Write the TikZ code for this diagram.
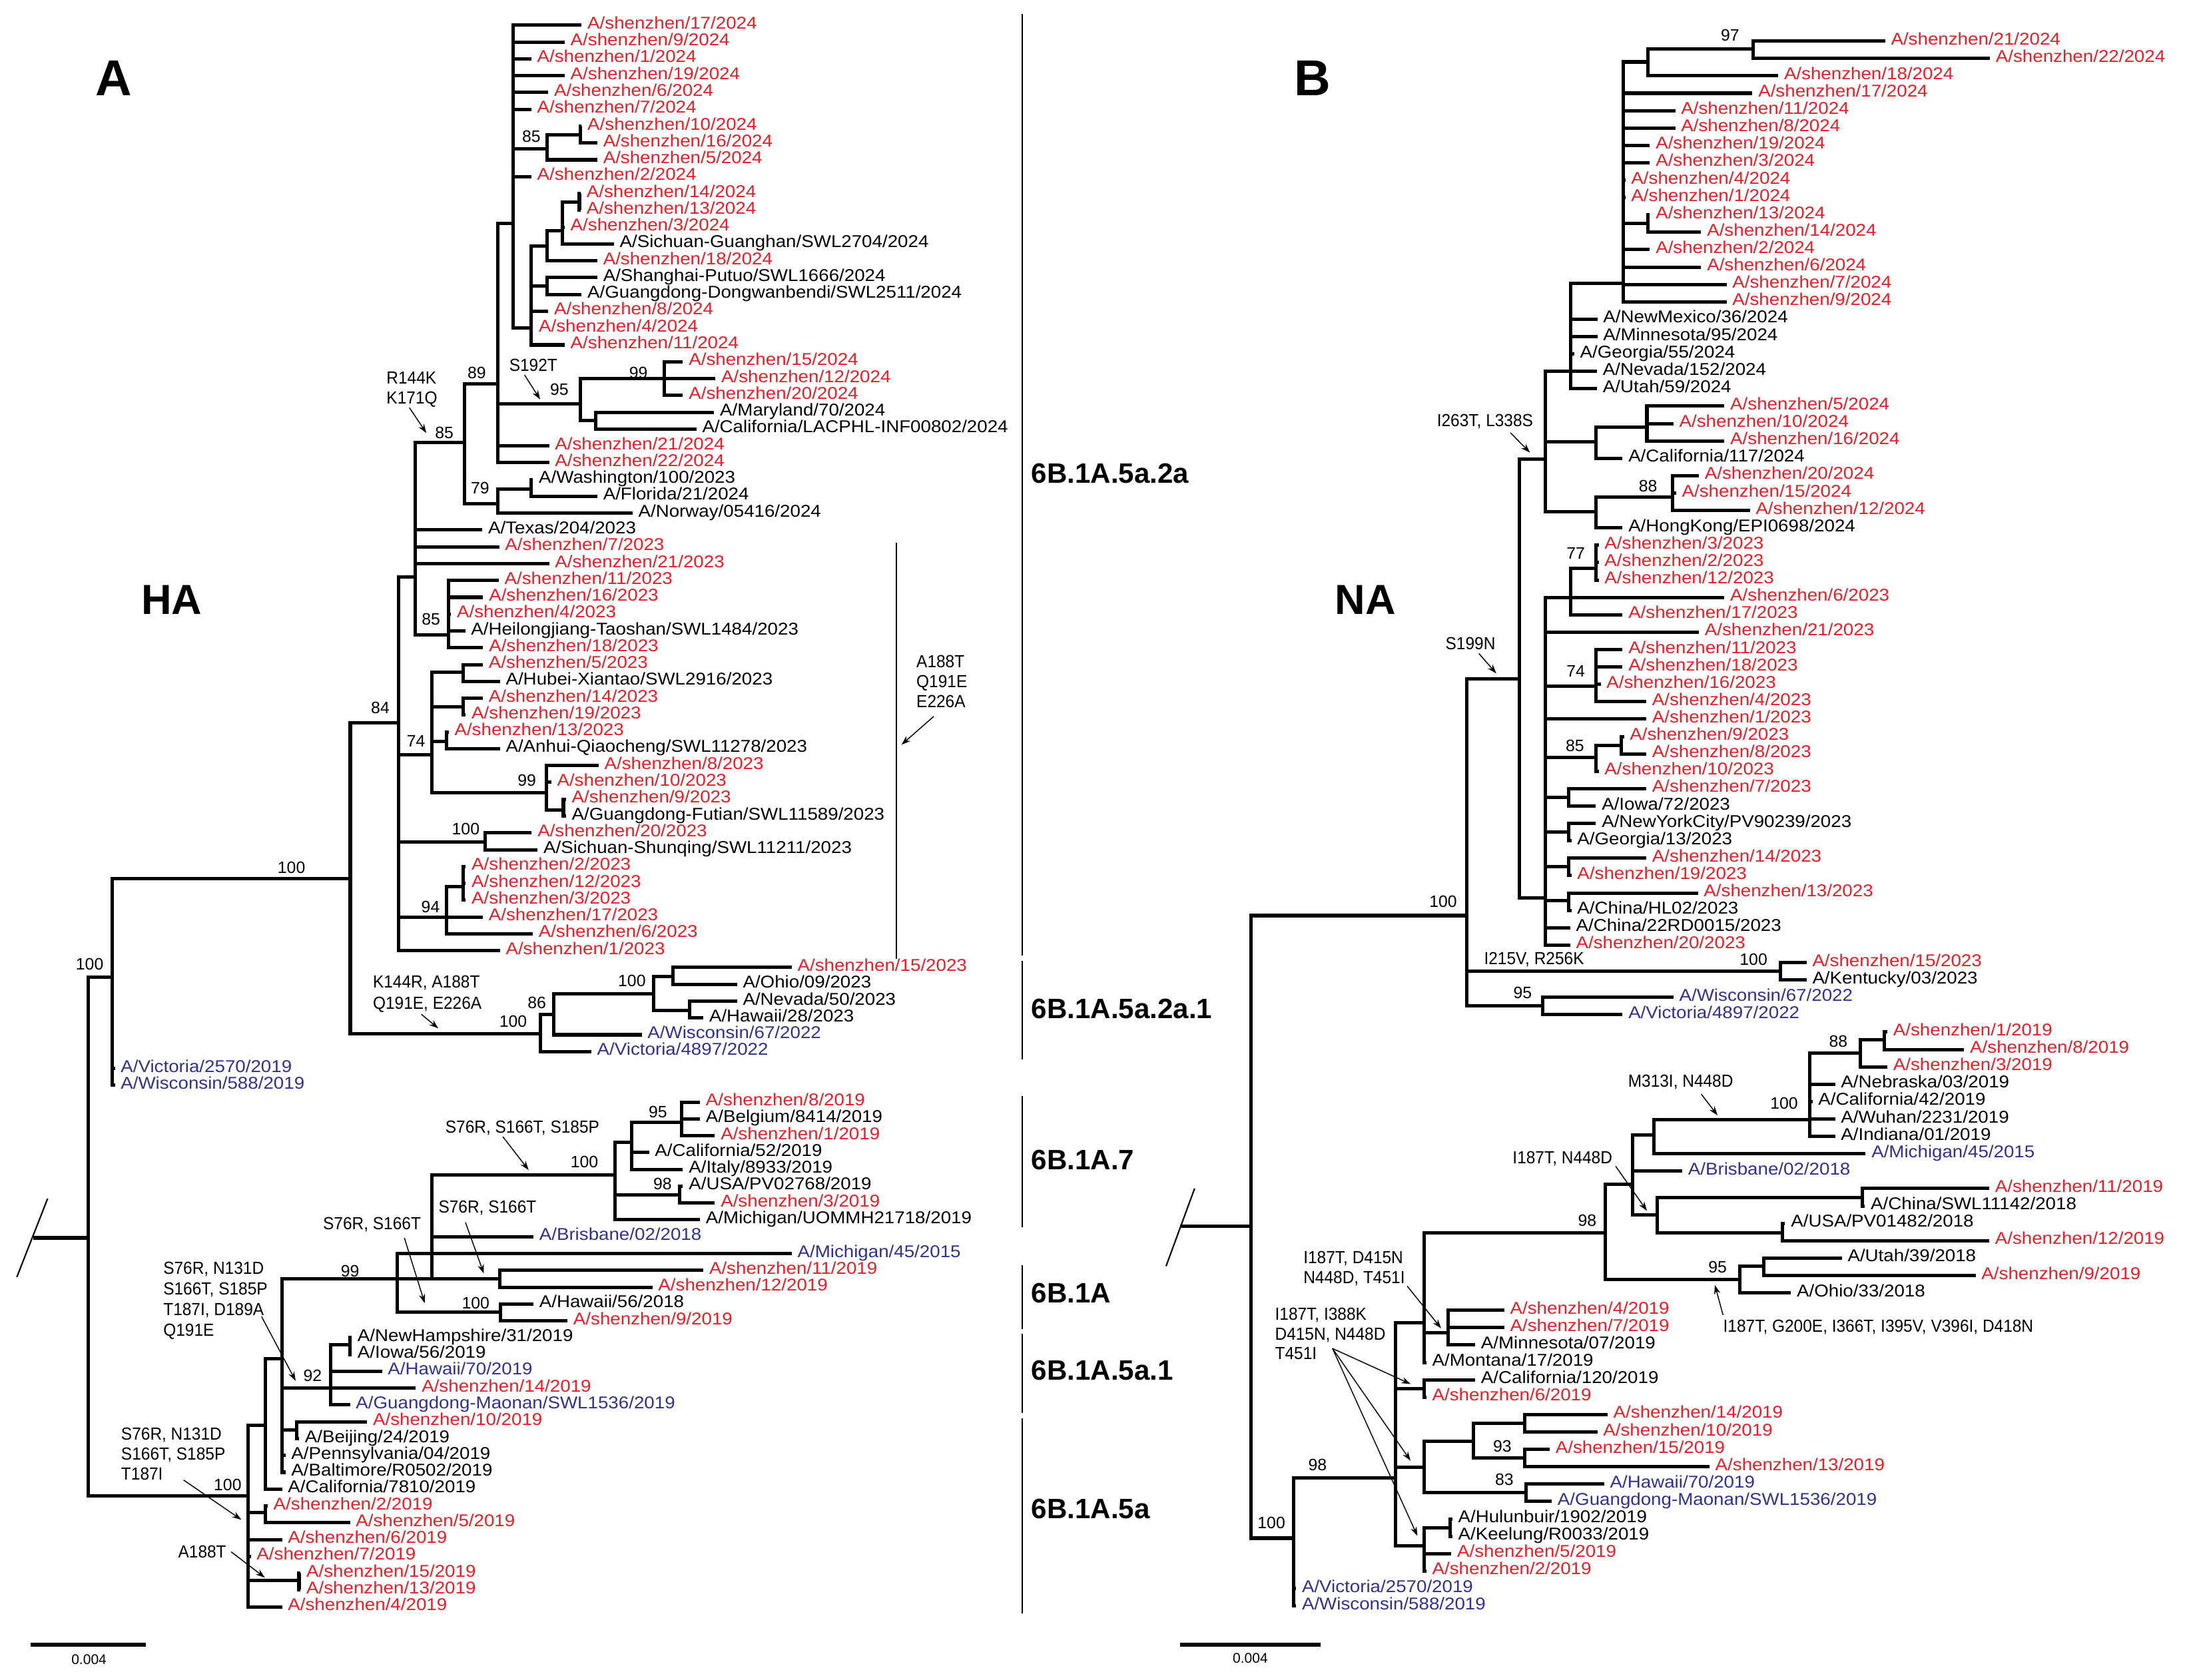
\documentclass[tikz,border=0pt]{standalone}
\usepackage{fontspec}
\setmainfont{Liberation Sans}
\newfontfamily\tipfont[FakeStretch=1.08]{Liberation Sans}
\newfontfamily\mutfont[FakeStretch=0.93]{Liberation Sans}
\usetikzlibrary{arrows.meta}
\definecolor{szred}{RGB}{237,28,36}
\definecolor{vacblue}{RGB}{46,49,146}
\tikzset{%
	br/.style      = {line width=2.4pt, line join=miter}, % branch
	tip/.style     = {anchor=mid west, inner xsep=4pt, inner ysep=0pt, font=\tipfont\fontsize{12.2}{12}\selectfont},
	szlab/.style   = {tip, text=szred}, % Shenzhen strains
	vaclab/.style  = {tip, text=vacblue}, % vaccine strains
	seqlab/.style  = {tip}, % reference strains
	bs/.style      = {inner sep=0pt, font=\fontsize{11.8}{12}\selectfont}, % bootstrap
	mut/.style     = {anchor=west, inner sep=0pt, align=left, font=\mutfont\fontsize{12.5}{14.2}\selectfont},
	ptr/.style     = {line width=0.7pt, -{Stealth[length=6.5pt,width=4.5pt]}},
	cbar/.style    = {line width=1.2pt},
	clade/.style   = {anchor=west, inner sep=0pt, font=\bfseries\fontsize{20}{22}\selectfont},
	panel/.style   = {inner sep=0pt, font=\bfseries\fontsize{36}{40}\selectfont},
	gene/.style    = {inner sep=0pt, font=\bfseries\fontsize{30}{34}\selectfont},
}
\begin{document}
\begin{tikzpicture}[x=1pt,y=-1pt]
\useasboundingbox (0,0) rectangle (1568,1199);
% panel letters
\node[panel] (pA) at (81,56) {A};
\node[gene] (gHA) at (122.5,428) {HA};
\node[panel] (pB) at (936.6,56) {B};
\node[gene] (gNA) at (974.5,428) {NA};
% clade bars
\draw[cbar] (729.5,10) -- (729.5,682);
\draw[cbar] (729.5,686) -- (729.5,756);
\draw[cbar] (729.5,782.5) -- (729.5,876);
\draw[cbar] (729.5,903) -- (729.5,948.6);
\draw[cbar] (729.5,952) -- (729.5,1008.7);
\draw[cbar] (729.5,1012.2) -- (729.5,1151.8);
\draw[cbar] (639.7,387.3) -- (639.7,684.4);
\node[clade] (c1) at (736,338) {6B.1A.5a.2a};
\node[clade] (c2) at (736,720) {6B.1A.5a.2a.1};
\node[clade] (c3) at (736,828) {6B.1A.7};
\node[clade] (c4) at (736,923) {6B.1A};
\node[clade] (c5) at (736,978) {6B.1A.5a.1};
\node[clade] (c6) at (736,1077) {6B.1A.5a};
% root breaks and scale bars
\draw[line width=1pt] (34,855.5) -- (12,911.6);
\draw[line width=1pt] (852.6,848.3) -- (832.2,903.8);
\draw[line width=2.6pt] (21.8,1173.9) -- (104.3,1173.9);
\node[bs, font=\fontsize{10}{11}\selectfont] (sA) at (63.5,1184.5) {0.004};
\draw[line width=2.6pt] (842,1173.9) -- (942.7,1173.9);
\node[bs, font=\fontsize{10}{11}\selectfont] (sB) at (892.3,1183.5) {0.004};

% ---------------- HA tree ----------------
\begin{scope}[yshift=-5.99pt, y=-12.01pt]
\coordinate (hroot) at (24,73.07);
\coordinate (hN63) at (63,73.07);
\coordinate (hN80) at (80,57.59);
\coordinate (hN250) at (250,51.71);
\coordinate (hN84) at (284.5,42.47);
\coordinate (hN296) at (296.4,33.80);
\coordinate (hN85R) at (331.4,25.81);
\coordinate (hN89) at (355.3,22.32);
\coordinate (hP24) at (366.4,12.76);
\coordinate (hN85a) at (390.3,8.34);
\coordinate (hN414) at (414.2,7.5);
\coordinate (hN370) at (379.2,19);
\coordinate (hN405a) at (390.3,14.14);
\coordinate (hN440) at (401.5,13.21);
\coordinate (hN478) at (413.5,11.5);
\coordinate (hN405b) at (390.3,16.5);
\coordinate (hNS192) at (414.2,23.51);
\coordinate (hN99a) at (474,22);
\coordinate (hN425) at (425.3,24.5);
\coordinate (hN79) at (355.3,29.44);
\coordinate (hN379) at (379.2,28.55);
\coordinate (hN85b) at (320.3,37.22);
\coordinate (hN74) at (308,44.36);
\coordinate (hN330a) at (330.7,39.47);
\coordinate (hN330b) at (330.7,41.52);
\coordinate (hN318) at (318.5,43.55);
\coordinate (hN99b) at (390,46.6);
\coordinate (hN402) at (402.1,47.65);
\coordinate (hN100c) at (346.4,49.56);
\coordinate (hN94) at (318.5,54);
\coordinate (hN330c) at (330.7,52.2);
\coordinate (hN2a1) at (385.6,60.95);
\coordinate (hN86) at (395.3,59.78);
\coordinate (hN100d) at (466.6,58.58);
\coordinate (hN480) at (480.2,57.52);
\coordinate (hN492) at (492.3,59.57);
\coordinate (hN177) at (177,88.41);
\coordinate (hNA) at (189.2,84.22);
\coordinate (hNB) at (201.3,80.25);
\coordinate (hN99c) at (283.7,75.5);
\coordinate (hN308) at (308,75.5);
\coordinate (hN356) at (356.5,75.5);
\coordinate (hN100e) at (357.4,77.5);
\coordinate (hN100f) at (438.9,69.32);
\coordinate (hN95a) at (451,67.41);
\coordinate (hN486) at (486.5,66.21);
\coordinate (hN98a) at (485,70.52);
\coordinate (hN92) at (236.2,82);
\coordinate (hN249) at (249.8,79.44);
\coordinate (hN212) at (211.9,84.5);
\coordinate (hN189) at (189.2,89.38);
\coordinate (hN213) at (213.4,93.42);
% tips
\node[szlab] (h1) at (415.1,1) {A/shenzhen/17/2024};
\node[szlab] (h2) at (403,2) {A/shenzhen/9/2024};
\node[szlab] (h3) at (379.2,3) {A/shenzhen/1/2024};
\node[szlab] (h4) at (403,4) {A/shenzhen/19/2024};
\node[szlab] (h5) at (391.3,5) {A/shenzhen/6/2024};
\node[szlab] (h6) at (379.2,6) {A/shenzhen/7/2024};
\node[szlab] (h7) at (415.1,7) {A/shenzhen/10/2024};
\node[szlab] (h8) at (426.3,8) {A/shenzhen/16/2024};
\node[szlab] (h9) at (426.3,9) {A/shenzhen/5/2024};
\node[szlab] (h10) at (379.2,10) {A/shenzhen/2/2024};
\node[szlab] (h11) at (414.5,11) {A/shenzhen/14/2024};
\node[szlab] (h12) at (414.5,12) {A/shenzhen/13/2024};
\node[szlab] (h13) at (403,13) {A/shenzhen/3/2024};
\node[seqlab] (h14) at (438.1,14) {A/Sichuan-Guanghan/SWL2704/2024};
\node[szlab] (h15) at (426.3,15) {A/shenzhen/18/2024};
\node[seqlab] (h16) at (426.3,16) {A/Shanghai-Putuo/SWL1666/2024};
\node[seqlab] (h17) at (415.1,17) {A/Guangdong-Dongwanbendi/SWL2511/2024};
\node[szlab] (h18) at (391.3,18) {A/shenzhen/8/2024};
\node[szlab] (h19) at (380.4,19) {A/shenzhen/4/2024};
\node[szlab] (h20) at (403,20) {A/shenzhen/11/2024};
\node[szlab] (h21) at (487.4,21) {A/shenzhen/15/2024};
\node[szlab] (h22) at (510.6,22) {A/shenzhen/12/2024};
\node[szlab] (h23) at (487.4,23) {A/shenzhen/20/2024};
\node[seqlab] (h24) at (509.7,24) {A/Maryland/70/2024};
\node[seqlab] (h25) at (497,25) {A/California/LACPHL-INF00802/2024};
\node[szlab] (h26) at (391.9,26) {A/shenzhen/21/2024};
\node[szlab] (h27) at (391.9,27) {A/shenzhen/22/2024};
\node[seqlab] (h28) at (380.4,28) {A/Washington/100/2023};
\node[seqlab] (h29) at (426.3,29) {A/Florida/21/2024};
\node[seqlab] (h30) at (451.4,30) {A/Norway/05416/2024};
\node[seqlab] (h31) at (344.2,31) {A/Texas/204/2023};
\node[szlab] (h32) at (356.3,32) {A/shenzhen/7/2023};
\node[szlab] (h33) at (391.9,33) {A/shenzhen/21/2023};
\node[szlab] (h34) at (355.9,34) {A/shenzhen/11/2023};
\node[szlab] (h35) at (344.8,35) {A/shenzhen/16/2023};
\node[szlab] (h36) at (321.9,36) {A/shenzhen/4/2023};
\node[seqlab] (h37) at (332,37) {A/Heilongjiang-Taoshan/SWL1484/2023};
\node[szlab] (h38) at (344.8,38) {A/shenzhen/18/2023};
\node[szlab] (h39) at (344.6,39) {A/shenzhen/5/2023};
\node[seqlab] (h40) at (356.8,40) {A/Hubei-Xiantao/SWL2916/2023};
\node[szlab] (h41) at (344.6,41) {A/shenzhen/14/2023};
\node[szlab] (h42) at (332.4,42) {A/shenzhen/19/2023};
\node[szlab] (h43) at (320.2,43) {A/shenzhen/13/2023};
\node[seqlab] (h44) at (356.8,44) {A/Anhui-Qiaocheng/SWL11278/2023};
\node[szlab] (h45) at (427.2,45) {A/shenzhen/8/2023};
\node[szlab] (h46) at (393.4,46) {A/shenzhen/10/2023};
\node[szlab] (h47) at (403.9,47) {A/shenzhen/9/2023};
\node[seqlab] (h48) at (403.9,48) {A/Guangdong-Futian/SWL11589/2023};
\node[szlab] (h49) at (379.5,49) {A/shenzhen/20/2023};
\node[seqlab] (h50) at (383.7,50) {A/Sichuan-Shunqing/SWL11211/2023};
\node[szlab] (h51) at (332.4,51) {A/shenzhen/2/2023};
\node[szlab] (h52) at (332.4,52) {A/shenzhen/12/2023};
\node[szlab] (h53) at (332.4,53) {A/shenzhen/3/2023};
\node[szlab] (h54) at (344.6,54) {A/shenzhen/17/2023};
\node[szlab] (h55) at (380.2,55) {A/shenzhen/6/2023};
\node[szlab] (h56) at (356.8,56) {A/shenzhen/1/2023};
\node[szlab] (h57) at (565,57) {A/shenzhen/15/2023};
\node[seqlab] (h58) at (526,58) {A/Ohio/09/2023};
\node[seqlab] (h59) at (526,59) {A/Nevada/50/2023};
\node[seqlab] (h60) at (502,60) {A/Hawaii/28/2023};
\node[vaclab] (h61) at (458,61) {A/Wisconsin/67/2022};
\node[vaclab] (h62) at (422,62) {A/Victoria/4897/2022};
\node[vaclab] (h63) at (82,63) {A/Victoria/2570/2019};
\node[vaclab] (h64) at (82,64) {A/Wisconsin/588/2019};
\node[szlab] (h65) at (499.6,65) {A/shenzhen/8/2019};
\node[seqlab] (h66) at (499.6,66) {A/Belgium/8414/2019};
\node[szlab] (h67) at (510.2,67) {A/shenzhen/1/2019};
\node[seqlab] (h68) at (463.2,68) {A/California/52/2019};
\node[seqlab] (h69) at (487.4,69) {A/Italy/8933/2019};
\node[seqlab] (h70) at (487.4,70) {A/USA/PV02768/2019};
\node[szlab] (h71) at (510.2,71) {A/shenzhen/3/2019};
\node[seqlab] (h72) at (499.6,72) {A/Michigan/UOMMH21718/2019};
\node[vaclab] (h73) at (380.7,73) {A/Brisbane/02/2018};
\node[vaclab] (h74) at (565,74) {A/Michigan/45/2015};
\node[szlab] (h75) at (502,75) {A/shenzhen/11/2019};
\node[szlab] (h76) at (465.6,76) {A/shenzhen/12/2019};
\node[seqlab] (h77) at (380.7,77) {A/Hawaii/56/2018};
\node[szlab] (h78) at (405,78) {A/shenzhen/9/2019};
\node[seqlab] (h79) at (251,79) {A/NewHampshire/31/2019};
\node[seqlab] (h80) at (251,80) {A/Iowa/56/2019};
\node[vaclab] (h81) at (272.6,81) {A/Hawaii/70/2019};
\node[szlab] (h82) at (296.8,82) {A/shenzhen/14/2019};
\node[vaclab] (h83) at (249.8,83) {A/Guangdong-Maonan/SWL1536/2019};
\node[szlab] (h84) at (262,84) {A/shenzhen/10/2019};
\node[seqlab] (h85) at (213.4,85) {A/Beijing/24/2019};
\node[seqlab] (h86) at (203.7,86) {A/Pennsylvania/04/2019};
\node[seqlab] (h87) at (203.7,87) {A/Baltimore/R0502/2019};
\node[seqlab] (h88) at (201.3,88) {A/California/7810/2019};
\node[szlab] (h89) at (191,89) {A/shenzhen/2/2019};
\node[szlab] (h90) at (249.8,90) {A/shenzhen/5/2019};
\node[szlab] (h91) at (201.3,91) {A/shenzhen/6/2019};
\node[szlab] (h92) at (179,92) {A/shenzhen/7/2019};
\node[szlab] (h93) at (214.5,93) {A/shenzhen/15/2019};
\node[szlab] (h94) at (214.5,94) {A/shenzhen/13/2019};
\node[szlab] (h95) at (201.3,95) {A/shenzhen/4/2019};
% branches
\draw[br] (hroot) -- (hN63);
\draw[br] (hN63) |- (hN80)  (hN63) |- (hN177);
\draw[br] (hN80) |- (hN250)  (hN80) |- (h63.mid west)  (hN80) |- (h64.mid west);
\draw[br] (hN250) |- (hN84)  (hN250) |- (hN2a1);
\draw[br] (hN84) |- (hN296)  (hN84) |- (hN74)  (hN84) |- (hN100c)  (hN84) |- (hN94)  (hN84) |- (h56.mid west);
\draw[br] (hN296) |- (hN85R)  (hN296) |- (hN85b);
\foreach \t in {31,32,33} \draw[br] (hN296) |- (h\t.mid west);
\draw[br] (hN85R) |- (hN89)  (hN85R) |- (hN79);
\draw[br] (hN89) |- (hP24)  (hN89) |- (hNS192)  (hN89) |- (h26.mid west)  (hN89) |- (h27.mid west);
\foreach \t in {1,2,3,4,5,6,10} \draw[br] (hP24) |- (h\t.mid west);
\draw[br] (hP24) |- (hN85a)  (hP24) |- (hN370);
\draw[br] (hN85a) |- (hN414)  (hN85a) |- (h9.mid west);
\draw[br] (hN414) |- (h7.mid west)  (hN414) |- (h8.mid west);
\draw[br] (hN370) |- (hN405a)  (hN370) |- (hN405b);
\foreach \t in {18,19,20} \draw[br] (hN370) |- (h\t.mid west);
\draw[br] (hN405a) |- (hN440)  (hN405a) |- (h15.mid west);
\draw[br] (hN440) |- (hN478)  (hN440) |- (h13.mid west)  (hN440) |- (h14.mid west);
\draw[br] (hN478) |- (h11.mid west)  (hN478) |- (h12.mid west);
\draw[br] (hN405b) |- (h16.mid west)  (hN405b) |- (h17.mid west);
\draw[br] (hNS192) |- (hN99a)  (hNS192) |- (hN425);
\foreach \t in {21,22,23} \draw[br] (hN99a) |- (h\t.mid west);
\draw[br] (hN425) |- (h24.mid west)  (hN425) |- (h25.mid west);
\draw[br] (hN79) |- (hN379)  (hN79) |- (h30.mid west);
\draw[br] (hN379) |- (h28.mid west)  (hN379) |- (h29.mid west);
\foreach \t in {34,...,38} \draw[br] (hN85b) |- (h\t.mid west);
\draw[br] (hN74) |- (hN330a)  (hN74) |- (hN330b)  (hN74) |- (hN318)  (hN74) |- (hN99b);
\draw[br] (hN330a) |- (h39.mid west)  (hN330a) |- (h40.mid west);
\draw[br] (hN330b) |- (h41.mid west)  (hN330b) |- (h42.mid west);
\draw[br] (hN318) |- (h43.mid west)  (hN318) |- (h44.mid west);
\draw[br] (hN99b) |- (h45.mid west)  (hN99b) |- (h46.mid west)  (hN99b) |- (hN402);
\draw[br] (hN402) |- (h47.mid west)  (hN402) |- (h48.mid west);
\draw[br] (hN100c) |- (h49.mid west)  (hN100c) |- (h50.mid west);
\draw[br] (hN94) |- (hN330c)  (hN94) |- (h54.mid west)  (hN94) |- (h55.mid west);
\foreach \t in {51,52,53} \draw[br] (hN330c) |- (h\t.mid west);
\draw[br] (hN2a1) |- (hN86)  (hN2a1) |- (h62.mid west);
\draw[br] (hN86) |- (hN100d)  (hN86) |- (h61.mid west);
\draw[br] (hN100d) |- (hN480)  (hN100d) |- (hN492);
\draw[br] (hN480) |- (h57.mid west)  (hN480) |- (h58.mid west);
\draw[br] (hN492) |- (h59.mid west)  (hN492) |- (h60.mid west);
\draw[br] (hN177) |- (hNA)  (hN177) |- (hN189)  (hN177) |- (hN213);
\foreach \t in {91,92,95} \draw[br] (hN177) |- (h\t.mid west);
\draw[br] (hNA) |- (hNB)  (hNA) |- (h88.mid west);
\draw[br] (hNB) |- (hN99c)  (hNB) |- (hN92)  (hNB) |- (hN212)  (hNB) |- (h86.mid west)  (hNB) |- (h87.mid west);
\draw[br] (hN99c) |- (h74.mid west)  (hN99c) |- (hN308)  (hN99c) |- (hN100e);
\draw[br] (hN308) |- (hN100f)  (hN308) |- (h73.mid west)  (hN308) |- (hN356);
\draw[br] (hN356) |- (h75.mid west)  (hN356) |- (h76.mid west);
\draw[br] (hN100e) |- (h77.mid west)  (hN100e) |- (h78.mid west);
\draw[br] (hN100f) |- (hN95a)  (hN100f) |- (hN98a)  (hN100f) |- (h72.mid west);
\draw[br] (hN95a) |- (hN486)  (hN95a) |- (h68.mid west)  (hN95a) |- (h69.mid west);
\foreach \t in {65,66,67} \draw[br] (hN486) |- (h\t.mid west);
\draw[br] (hN98a) |- (h70.mid west)  (hN98a) |- (h71.mid west);
\draw[br] (hN92) |- (hN249);
\foreach \t in {81,82,83} \draw[br] (hN92) |- (h\t.mid west);
\draw[br] (hN249) |- (h79.mid west)  (hN249) |- (h80.mid west);
\draw[br] (hN212) |- (h84.mid west)  (hN212) |- (h85.mid west);
\draw[br] (hN189) |- (h89.mid west)  (hN189) |- (h90.mid west);
\draw[br] (hN213) |- (h93.mid west)  (hN213) |- (h94.mid west);
% bootstrap values
\node[bs] (hb1) at (64,56.81) {100};
\node[bs] (hb2) at (208,51.06) {100};
\node[bs] (hb3) at (271.4,41.58) {84};
\node[bs] (hb4) at (296.9,43.56) {74};
\node[bs] (hb5) at (376,45.87) {99};
\node[bs] (hb6) at (332.4,48.77) {100};
\node[bs] (hb7) at (307.3,53.39) {94};
\node[bs] (hb8) at (317.1,25.22) {85};
\node[bs] (hb9) at (340.3,21.66) {89};
\node[bs] (hb10) at (342.6,28.52) {79};
\node[bs] (hb11) at (399.2,22.65) {95};
\node[bs] (hb12) at (455.6,21.66) {99};
\node[bs] (hb13) at (307.6,36.3) {85};
\node[bs] (hb14) at (379.2,7.61) {85};
\node[bs] (hb15) at (451,57.8) {100};
\node[bs] (hb16) at (383.2,59.08) {86};
\node[bs] (hb17) at (366.2,60.21) {100};
\node[bs] (hb18) at (162.5,87.75) {100};
\node[bs] (hb19) at (249.8,75.05) {99};
\node[bs] (hb20) at (417.1,68.54) {100};
\node[bs] (hb21) at (469.5,65.58) {95};
\node[bs] (hb22) at (472.9,69.88) {98};
\node[bs] (hb23) at (339.5,76.95) {100};
\node[bs] (hb24) at (223.1,81.28) {92};
% substitutions
\node[mut] (hm1) at (275.7,22.65) {R144K\\K171Q};
\coordinate (hm1a) at (292.2,23.73); \coordinate (hm1b) at (304.3,25.24);
\draw[ptr] (hm1a) -- (hm1b);
\node[mut] (hm2) at (363.3,21.2) {S192T};
\coordinate (hm2a) at (374.4,21.79); \coordinate (hm2b) at (385.5,23.24);
\draw[ptr] (hm2a) -- (hm2b);
\node[mut] (hm3) at (653.9,40) {A188T\\Q191E\\E226A};
\coordinate (hm3a) at (666.4,42.08); \coordinate (hm3b) at (643.4,43.76);
\draw[ptr] (hm3a) -- (hm3b);
\node[mut, font=\mutfont\fontsize{12.5}{15}\selectfont] (hm4) at (266,58.58) {K144R, A188T\\Q191E, E226A};
\coordinate (hm4a) at (300.7,59.78); \coordinate (hm4b) at (312.8,60.62);
\draw[ptr] (hm4a) -- (hm4b);
\node[mut] (hm5) at (317.7,66.56) {S76R, S166T, S185P};
\coordinate (hm5a) at (358.9,67.06); \coordinate (hm5b) at (377.3,69.04);
\draw[ptr] (hm5a) -- (hm5b);
\node[mut] (hm6) at (312.8,71.3) {S76R, S166T};
\coordinate (hm6a) at (332.2,72.15); \coordinate (hm6b) at (345.3,75.19);
\draw[ptr] (hm6a) -- (hm6b);
\node[mut] (hm7) at (230.4,72.29) {S76R, S166T};
\coordinate (hm7a) at (288.6,73.07); \coordinate (hm7b) at (303.1,76.95);
\draw[ptr] (hm7a) -- (hm7b);
\node[mut, font=\mutfont\fontsize{12.5}{14.7}\selectfont] (hm8) at (116.4,76.81) {S76R, N131D\\S166T, S185P\\T187I, D189A\\Q191E};
\coordinate (hm8a) at (186.7,77.75); \coordinate (hm8b) at (211,81.57);
\draw[ptr] (hm8a) -- (hm8b);
\node[mut] (hm9) at (86.3,85.91) {S76R, N131D\\S166T, S185P\\T187I};
\coordinate (hm9a) at (131,87.46); \coordinate (hm9b) at (172.2,89.82);
\draw[ptr] (hm9a) -- (hm9b);
\node[mut] (hm10) at (127,91.73) {A188T};
\coordinate (hm10a) at (165,91.73); \coordinate (hm10b) at (189,93.26);
\draw[ptr] (hm10a) -- (hm10b);
\end{scope}

% ---------------- NA tree ----------------
\begin{scope}[yshift=-16.89pt, y=-12.41pt]
\coordinate (nroot) at (842,69.17);
\coordinate (nNR) at (892.8,69.17);
\coordinate (nU100) at (1047,51.30);
\coordinate (nS199) at (1084.3,37.69);
\coordinate (nI215) at (1270.9,54.5);
\coordinate (nW95) at (1101.2,56.5);
\coordinate (nI263) at (1102.8,25.06);
\coordinate (nQ) at (1102.7,50.3);
\coordinate (nN1121) at (1121,20);
\coordinate (nP) at (1158.4,14.95);
\coordinate (nN1176) at (1175.9,2.2);
\coordinate (nN97) at (1251.3,1.45);
\coordinate (nN1176b) at (1175.9,11.5);
\coordinate (nN1139a) at (1139.1,24.04);
\coordinate (nN1175) at (1175.4,23.2);
\coordinate (nN1139b) at (1139.1,28.06);
\coordinate (nN88r) at (1193.6,27.23);
\coordinate (nN1121b) at (1121,33);
\coordinate (nN77) at (1139.1,31.31);
\coordinate (nN74r) at (1139,38.10);
\coordinate (nN85r) at (1139,42.21);
\coordinate (nN1157) at (1157,41.52);
\coordinate (nN1119a) at (1119.7,44.5);
\coordinate (nN1119b) at (1119.7,46.5);
\coordinate (nN1119c) at (1119.7,48.5);
\coordinate (nN1119d) at (1119.7,50.45);
\coordinate (nL100) at (923.4,87.11);
\coordinate (nL98) at (996,83.63);
\coordinate (nA) at (1016.4,74.72);
\coordinate (nN1033) at (1033.4,75.3);
\coordinate (nU98) at (1145.8,69.55);
\coordinate (nN1165) at (1165.2,66.75);
\coordinate (nN1180) at (1180.2,63.93);
\coordinate (nN100r) at (1291.7,63.04);
\coordinate (nN88b) at (1327.6,59.21);
\coordinate (nN1345) at (1345,58.45);
\coordinate (nN1183) at (1182.7,68.53);
\coordinate (nN1329) at (1329,67.51);
\coordinate (nN1272) at (1272.3,69.55);
\coordinate (nN95r) at (1241.8,72.23);
\coordinate (nN1258) at (1258.8,71.47);
\coordinate (nN1016b) at (1016.4,78.5);
\coordinate (nN1016c) at (1016.4,83.02);
\coordinate (nN1051) at (1051.8,81.52);
\coordinate (nN1088) at (1088.2,80.5);
\coordinate (nN93) at (1088.2,82.5);
\coordinate (nN83) at (1089.1,84.5);
\coordinate (nN1016d) at (1016.4,87.56);
\coordinate (nN1035) at (1034.8,86.5);
% tips
\node[szlab] (n1) at (1345.4,1) {A/shenzhen/21/2024};
\node[szlab] (n2) at (1420.2,2) {A/shenzhen/22/2024};
\node[szlab] (n3) at (1269.1,3) {A/shenzhen/18/2024};
\node[szlab] (n4) at (1250.7,4) {A/shenzhen/17/2024};
\node[szlab] (n5) at (1195.6,5) {A/shenzhen/11/2024};
\node[szlab] (n6) at (1195.6,6) {A/shenzhen/8/2024};
\node[szlab] (n7) at (1177.5,7) {A/shenzhen/19/2024};
\node[szlab] (n8) at (1177.5,8) {A/shenzhen/3/2024};
\node[szlab] (n9) at (1160,9) {A/shenzhen/4/2024};
\node[szlab] (n10) at (1160,10) {A/shenzhen/1/2024};
\node[szlab] (n11) at (1177.5,11) {A/shenzhen/13/2024};
\node[szlab] (n12) at (1214.1,12) {A/shenzhen/14/2024};
\node[szlab] (n13) at (1177.5,13) {A/shenzhen/2/2024};
\node[szlab] (n14) at (1214.1,14) {A/shenzhen/6/2024};
\node[szlab] (n15) at (1232.2,15) {A/shenzhen/7/2024};
\node[szlab] (n16) at (1232.2,16) {A/shenzhen/9/2024};
\node[seqlab] (n17) at (1140,17) {A/NewMexico/36/2024};
\node[seqlab] (n18) at (1140,18) {A/Minnesota/95/2024};
\node[seqlab] (n19) at (1123.5,19) {A/Georgia/55/2024};
\node[seqlab] (n20) at (1139.8,20) {A/Nevada/152/2024};
\node[seqlab] (n21) at (1139.8,21) {A/Utah/59/2024};
\node[szlab] (n22) at (1230.7,22) {A/shenzhen/5/2024};
\node[szlab] (n23) at (1194.3,23) {A/shenzhen/10/2024};
\node[szlab] (n24) at (1230.7,24) {A/shenzhen/16/2024};
\node[seqlab] (n25) at (1158,25) {A/California/117/2024};
\node[szlab] (n26) at (1212.5,26) {A/shenzhen/20/2024};
\node[szlab] (n27) at (1196.2,27) {A/shenzhen/15/2024};
\node[szlab] (n28) at (1248.9,28) {A/shenzhen/12/2024};
\node[seqlab] (n29) at (1158,29) {A/HongKong/EPI0698/2024};
\node[szlab] (n30) at (1141,30) {A/shenzhen/3/2023};
\node[szlab] (n31) at (1141,31) {A/shenzhen/2/2023};
\node[szlab] (n32) at (1141,32) {A/shenzhen/12/2023};
\node[szlab] (n33) at (1230.7,33) {A/shenzhen/6/2023};
\node[szlab] (n34) at (1158,34) {A/shenzhen/17/2023};
\node[szlab] (n35) at (1212.5,35) {A/shenzhen/21/2023};
\node[szlab] (n36) at (1158,36) {A/shenzhen/11/2023};
\node[szlab] (n37) at (1158,37) {A/shenzhen/18/2023};
\node[szlab] (n38) at (1142.4,38) {A/shenzhen/16/2023};
\node[szlab] (n39) at (1174.9,39) {A/shenzhen/4/2023};
\node[szlab] (n40) at (1174.9,40) {A/shenzhen/1/2023};
\node[szlab] (n41) at (1159,41) {A/shenzhen/9/2023};
\node[szlab] (n42) at (1174.9,42) {A/shenzhen/8/2023};
\node[szlab] (n43) at (1141,43) {A/shenzhen/10/2023};
\node[szlab] (n44) at (1174.9,44) {A/shenzhen/7/2023};
\node[seqlab] (n45) at (1139,45) {A/Iowa/72/2023};
\node[seqlab] (n46) at (1139,46) {A/NewYorkCity/PV90239/2023};
\node[seqlab] (n47) at (1121.5,47) {A/Georgia/13/2023};
\node[szlab] (n48) at (1174.9,48) {A/shenzhen/14/2023};
\node[szlab] (n49) at (1121.5,49) {A/shenzhen/19/2023};
\node[szlab] (n50) at (1211.8,50) {A/shenzhen/13/2023};
\node[seqlab] (n51) at (1121.5,51) {A/China/HL02/2023};
\node[seqlab] (n52) at (1120.6,52) {A/China/22RD0015/2023};
\node[szlab] (n53) at (1120.6,53) {A/shenzhen/20/2023};
\node[szlab] (n54) at (1289.3,54) {A/shenzhen/15/2023};
\node[seqlab] (n55) at (1289.3,55) {A/Kentucky/03/2023};
\node[vaclab] (n56) at (1194.3,56) {A/Wisconsin/67/2022};
\node[vaclab] (n57) at (1158,57) {A/Victoria/4897/2022};
\node[szlab] (n58) at (1347,58) {A/shenzhen/1/2019};
\node[szlab] (n59) at (1401.8,59) {A/shenzhen/8/2019};
\node[szlab] (n60) at (1347,60) {A/shenzhen/3/2019};
\node[seqlab] (n61) at (1309.7,61) {A/Nebraska/03/2019};
\node[seqlab] (n62) at (1293.5,62) {A/California/42/2019};
\node[seqlab] (n63) at (1309.7,63) {A/Wuhan/2231/2019};
\node[seqlab] (n64) at (1309.7,64) {A/Indiana/01/2019};
\node[vaclab] (n65) at (1331.5,65) {A/Michigan/45/2015};
\node[vaclab] (n66) at (1200.6,66) {A/Brisbane/02/2018};
\node[szlab] (n67) at (1419.7,67) {A/shenzhen/11/2019};
\node[seqlab] (n68) at (1331,68) {A/China/SWL11142/2018};
\node[seqlab] (n69) at (1274,69) {A/USA/PV01482/2018};
\node[szlab] (n70) at (1419.7,70) {A/shenzhen/12/2019};
\node[seqlab] (n71) at (1314.5,71) {A/Utah/39/2018};
\node[szlab] (n72) at (1410,72) {A/shenzhen/9/2019};
\node[seqlab] (n73) at (1278.2,73) {A/Ohio/33/2018};
\node[szlab] (n74) at (1073.6,74) {A/shenzhen/4/2019};
\node[szlab] (n75) at (1073.6,75) {A/shenzhen/7/2019};
\node[seqlab] (n76) at (1052.8,76) {A/Minnesota/07/2019};
\node[seqlab] (n77) at (1018,77) {A/Montana/17/2019};
\node[seqlab] (n78) at (1052.8,78) {A/California/120/2019};
\node[szlab] (n79) at (1018,79) {A/shenzhen/6/2019};
\node[szlab] (n80) at (1147.3,80) {A/shenzhen/14/2019};
\node[szlab] (n81) at (1140,81) {A/shenzhen/10/2019};
\node[szlab] (n82) at (1106,82) {A/shenzhen/15/2019};
\node[szlab] (n83) at (1220,83) {A/shenzhen/13/2019};
\node[vaclab] (n84) at (1144.9,84) {A/Hawaii/70/2019};
\node[vaclab] (n85) at (1107.5,85) {A/Guangdong-Maonan/SWL1536/2019};
\node[seqlab] (n86) at (1036.5,86) {A/Hulunbuir/1902/2019};
\node[seqlab] (n87) at (1036.5,87) {A/Keelung/R0033/2019};
\node[szlab] (n88) at (1035.8,88) {A/shenzhen/5/2019};
\node[szlab] (n89) at (1018,89) {A/shenzhen/2/2019};
\node[vaclab] (n90) at (925,90) {A/Victoria/2570/2019};
\node[vaclab] (n91) at (925,91) {A/Wisconsin/588/2019};
% branches
\draw[br] (nroot) -- (nNR);
\draw[br] (nNR) |- (nU100)  (nNR) |- (nL100);
\draw[br] (nU100) |- (nS199)  (nU100) |- (nI215)  (nU100) |- (nW95);
\draw[br] (nI215) |- (n54.mid west)  (nI215) |- (n55.mid west);
\draw[br] (nW95) |- (n56.mid west)  (nW95) |- (n57.mid west);
\draw[br] (nS199) |- (nI263)  (nS199) |- (nQ);
\draw[br] (nI263) |- (nN1121)  (nI263) |- (nN1139a)  (nI263) |- (nN1139b);
\draw[br] (nN1121) |- (nP);
\foreach \t in {17,...,21} \draw[br] (nN1121) |- (n\t.mid west);
\draw[br] (nP) |- (nN1176)  (nP) |- (nN1176b);
\foreach \t in {4,5,6,7,8,9,10,13,14,15,16} \draw[br] (nP) |- (n\t.mid west);
\draw[br] (nN1176) |- (nN97)  (nN1176) |- (n3.mid west);
\draw[br] (nN97) |- (n1.mid west)  (nN97) |- (n2.mid west);
\draw[br] (nN1176b) |- (n11.mid west)  (nN1176b) |- (n12.mid west);
\draw[br] (nN1139a) |- (nN1175)  (nN1139a) |- (n25.mid west);
\foreach \t in {22,23,24} \draw[br] (nN1175) |- (n\t.mid west);
\draw[br] (nN1139b) |- (nN88r)  (nN1139b) |- (n29.mid west);
\foreach \t in {26,27,28} \draw[br] (nN88r) |- (n\t.mid west);
\draw[br] (nQ) |- (nN1121b)  (nQ) |- (nN74r)  (nQ) |- (nN85r)  (nQ) |- (nN1119a)  (nQ) |- (nN1119b)  (nQ) |- (nN1119c)  (nQ) |- (nN1119d);
\foreach \t in {35,40,52,53} \draw[br] (nQ) |- (n\t.mid west);
\draw[br] (nN1121b) |- (nN77)  (nN1121b) |- (n33.mid west)  (nN1121b) |- (n34.mid west);
\foreach \t in {30,31,32} \draw[br] (nN77) |- (n\t.mid west);
\foreach \t in {36,...,39} \draw[br] (nN74r) |- (n\t.mid west);
\draw[br] (nN85r) |- (nN1157)  (nN85r) |- (n43.mid west);
\draw[br] (nN1157) |- (n41.mid west)  (nN1157) |- (n42.mid west);
\draw[br] (nN1119a) |- (n44.mid west)  (nN1119a) |- (n45.mid west);
\draw[br] (nN1119b) |- (n46.mid west)  (nN1119b) |- (n47.mid west);
\draw[br] (nN1119c) |- (n48.mid west)  (nN1119c) |- (n49.mid west);
\draw[br] (nN1119d) |- (n50.mid west)  (nN1119d) |- (n51.mid west);
\draw[br] (nL100) |- (nL98)  (nL100) |- (n90.mid west)  (nL100) |- (n91.mid west);
\draw[br] (nL98) |- (nA)  (nL98) |- (nN1016b)  (nL98) |- (nN1016c)  (nL98) |- (nN1016d);
\draw[br] (nA) |- (nU98)  (nA) |- (nN1033)  (nA) |- (n77.mid west);
\foreach \t in {74,75,76} \draw[br] (nN1033) |- (n\t.mid west);
\draw[br] (nU98) |- (nN1165)  (nU98) |- (nN95r);
\draw[br] (nN1165) |- (nN1180)  (nN1165) |- (n66.mid west)  (nN1165) |- (nN1183);
\draw[br] (nN1180) |- (nN100r)  (nN1180) |- (n65.mid west);
\draw[br] (nN100r) |- (nN88b);
\foreach \t in {61,...,64} \draw[br] (nN100r) |- (n\t.mid west);
\draw[br] (nN88b) |- (nN1345)  (nN88b) |- (n60.mid west);
\draw[br] (nN1345) |- (n58.mid west)  (nN1345) |- (n59.mid west);
\draw[br] (nN1183) |- (nN1329)  (nN1183) |- (nN1272);
\draw[br] (nN1329) |- (n67.mid west)  (nN1329) |- (n68.mid west);
\draw[br] (nN1272) |- (n69.mid west)  (nN1272) |- (n70.mid west);
\draw[br] (nN95r) |- (nN1258)  (nN95r) |- (n73.mid west);
\draw[br] (nN1258) |- (n71.mid west)  (nN1258) |- (n72.mid west);
\draw[br] (nN1016b) |- (n78.mid west)  (nN1016b) |- (n79.mid west);
\draw[br] (nN1016c) |- (nN1051)  (nN1016c) |- (nN83);
\draw[br] (nN1051) |- (nN1088)  (nN1051) |- (nN93);
\draw[br] (nN1088) |- (n80.mid west)  (nN1088) |- (n81.mid west);
\draw[br] (nN93) |- (n82.mid west)  (nN93) |- (n83.mid west);
\draw[br] (nN83) |- (n84.mid west)  (nN83) |- (n85.mid west);
\draw[br] (nN1016d) |- (nN1035)  (nN1016d) |- (n88.mid west)  (nN1016d) |- (n89.mid west);
\draw[br] (nN1035) |- (n86.mid west)  (nN1035) |- (n87.mid west);
% bootstrap values
\node[bs] (nb1) at (1234.8,0.68) {97};
\node[bs] (nb2) at (1176.2,26.59) {88};
\node[bs] (nb3) at (1124.6,30.46) {77};
\node[bs] (nb4) at (1124.6,37.25) {74};
\node[bs] (nb5) at (1124,41.52) {85};
\node[bs] (nb6) at (1030,50.48) {100};
\node[bs] (nb7) at (1251.5,53.84) {100};
\node[bs] (nb8) at (1086.7,55.75) {95};
\node[bs] (nb9) at (1312,58.53) {88};
\node[bs] (nb10) at (1273.3,62.08) {100};
\node[bs] (nb11) at (1132.8,68.85) {98};
\node[bs] (nb12) at (1225.8,71.53) {95};
\node[bs] (nb13) at (907.4,86.21) {100};
\node[bs] (nb14) at (940.3,82.89) {98};
\node[bs] (nb15) at (1072.2,81.81) {93};
\node[bs] (nb16) at (1073.6,83.73) {83};
% substitutions
\node[mut] (nm1) at (1025.4,22.89) {I263T, L338S};
\coordinate (nm1a) at (1078,23.53); \coordinate (nm1b) at (1091.9,24.67);
\draw[ptr] (nm1a) -- (nm1b);
\node[mut] (nm2) at (1031.5,35.66) {S199N};
\coordinate (nm2a) at (1055.5,36.23); \coordinate (nm2b) at (1067.9,37.37);
\draw[ptr] (nm2a) -- (nm2b);
\node[mut] (nm3) at (1059,53.84) {I215V, R256K};
\node[mut] (nm4) at (1161.8,60.87) {M313I, N448D};
\coordinate (nm4a) at (1214.2,61.57); \coordinate (nm4b) at (1225.8,62.79);
\draw[ptr] (nm4a) -- (nm4b);
\node[mut] (nm5) at (1079.4,65.27) {I187T, N448D};
\coordinate (nm5a) at (1153.1,65.72); \coordinate (nm5b) at (1175.4,68.28);
\draw[ptr] (nm5a) -- (nm5b);
\node[mut] (nm6) at (1229.7,74.97) {I187T, G200E, I366T, I395V, V396I, D418N};
\coordinate (nm6a) at (1229.7,74.27); \coordinate (nm6b) at (1223.9,72.55);
\draw[ptr] (nm6a) -- (nm6b);
\node[mut] (nm7) at (930.1,71.59) {I187T, D415N\\N448D, T451I};
\coordinate (nm7a) at (1004.3,72.61); \coordinate (nm7b) at (1028.5,75.04);
\draw[ptr] (nm7a) -- (nm7b);
\node[mut] (nm8) at (909.8,75.35) {I187T, I388K\\D415N, N448D\\T451I};
\coordinate (nm8a) at (951,76.2);
\coordinate (nm8b) at (1006.7,78.24);
\coordinate (nm8c) at (1006.7,82.65);
\coordinate (nm8d) at (1011.6,86.98);
\draw[ptr] (nm8a) -- (nm8b);
\draw[ptr] (nm8a) -- (nm8c);
\draw[ptr] (nm8a) -- (nm8d);
\end{scope}
\end{tikzpicture}
\end{document}
